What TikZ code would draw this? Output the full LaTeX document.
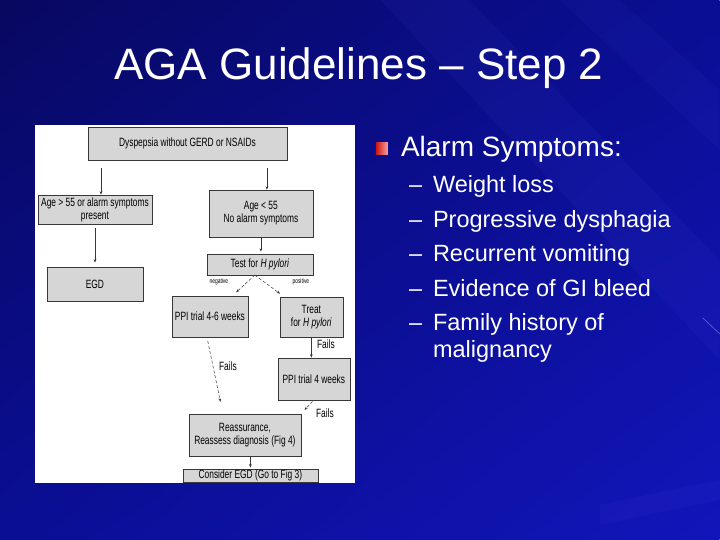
\documentclass[tikz,border=0pt]{standalone}
\usepackage{fontspec}
\setmainfont{Liberation Sans}
\newfontfamily\narrowfont[FakeStretch=0.7]{Liberation Sans}
\usetikzlibrary{arrows.meta, positioning, calc, shadings}
\definecolor{bgdark}{RGB}{8,8,96}
\definecolor{bgmid}{RGB}{10,14,148}
\definecolor{bglight}{RGB}{18,22,186}
\definecolor{boxgray}{RGB}{214,214,214}
\definecolor{boxline}{RGB}{55,55,55}
\definecolor{bulletred}{RGB}{200,20,20}
\definecolor{bulletpink}{RGB}{250,160,160}

\begin{document}
\begin{tikzpicture}[x=1pt, y=-1pt,
  flowbox/.style={rectangle, draw=boxline, fill=boxgray, inner sep=0pt, font=\narrowfont\fontsize{12}{13}\selectfont, align=center, text=black},
  flowlabel/.style={font=\narrowfont\fontsize{12}{13}\selectfont, text=black, inner sep=1pt},
  tinylabel/.style={font=\narrowfont\fontsize{7}{8}\selectfont, text=black, inner sep=0pt},
  arr/.style={-{Stealth[length=3.5pt, width=2.6pt]}, boxline, line width=0.5pt},
  darr/.style={arr, densely dashed},
  titletext/.style={font=\fontsize{44}{50}\selectfont, text=white, inner sep=0pt},
  headtext/.style={font=\fontsize{28}{32}\selectfont, text=white, inner sep=0pt, anchor=base west},
  itemtext/.style={font=\fontsize{23.5}{27}\selectfont, text=white, inner sep=0pt, anchor=base west},
]
  % Slide background
  \shade[upper left=bgdark, upper right=bgmid, lower left=bgmid, lower right=bglight] (0,0) rectangle (720,540);
  \fill[blue!60!white, opacity=0.06] (380,0) -- (470,0) -- (720,260) -- (720,360) -- cycle;
  \fill[blue!60!white, opacity=0.05] (560,0) -- (620,0) -- (720,90) -- (720,150) -- cycle;
  \fill[blue!60!white, opacity=0.06] (600,505) -- (720,480) -- (720,500) -- (600,525) -- cycle;
  \draw[white, opacity=0.35, line width=0.6pt] (703,318) -- (720,334);
  \useasboundingbox (0,0) rectangle (720,540);

  % Title
  \node[titletext] (title) at (359,68) {AGA Guidelines -- Step 2};

  % Flowchart panel
  \fill[white] (35,125) rectangle (355,483);

  \node[flowbox, minimum width=199pt, minimum height=33pt] (dys) at (187.5,143.5) {Dyspepsia without GERD or NSAIDs};
  \node[flowbox, minimum width=114pt, minimum height=29pt] (old) at (95,209.5) {Age \textgreater{} 55 or alarm symptoms\\present};
  \node[flowbox, minimum width=104pt, minimum height=47pt] (young) at (261,213.5) {Age \textless{} 55\\No alarm symptoms};
  \node[flowbox, minimum width=96pt, minimum height=34pt] (egd) at (95,284) {EGD};
  \node[flowbox, minimum width=106pt, minimum height=21pt] (hp) at (260,264.5) {Test for \textit{H pylori}};
  \node[flowbox, minimum width=76pt, minimum height=41pt] (ppi46) at (210,316.5) {PPI trial 4-6 weeks};
  \node[flowbox, minimum width=63pt, minimum height=40pt] (treat) at (311.5,317) {Treat\\for \textit{H pylori}};
  \node[flowbox, minimum width=72pt, minimum height=42pt] (ppi4) at (314,379) {PPI trial 4 weeks};
  \node[flowbox, minimum width=112pt, minimum height=42pt] (reas) at (245,435) {Reassurance,\\Reassess diagnosis (Fig 4)};
  \node[flowbox, minimum width=135pt, minimum height=13pt] (egd2) at (250.5,475.5) {Consider EGD (Go to Fig 3)};

  \draw[arr, shorten <=8pt] ([xshift=6pt]dys.south -| old.north) -- ([xshift=6pt]old.north);
  \draw[arr, shorten <=8pt] ([xshift=6pt]dys.south -| young.north) -- ([xshift=6pt]young.north);
  \draw[arr, shorten <=4pt, shorten >=4pt] (old.south) -- (egd.north);
  \draw[arr, shorten >=2pt] (young.south) -- (young.south |- hp.north);
  \draw[darr, shorten >=5pt] ([xshift=-5pt]hp.south) -- (ppi46);
  \draw[darr, shorten >=5pt] ([xshift=-5pt]hp.south) -- (treat);
  \node[tinylabel] (neg) at (219,282) {negative};
  \node[tinylabel] (pos) at (301,282) {positive};
  \draw[arr] (treat.south) -- (treat.south |- ppi4.north);
  \node[flowlabel, anchor=west] (f1) at (316,344) {Fails};
  \draw[darr, shorten <=4pt, shorten >=12pt] ([xshift=-3pt]ppi46.south) -- ([xshift=-22pt]reas.north);
  \node[flowlabel, anchor=west] (f2) at (218,366) {Fails};
  \draw[darr, shorten <=2pt, shorten >=5pt] (ppi4.south) -- (reas.north east);
  \node[flowlabel, anchor=west] (f3) at (315,413) {Fails};
  \draw[arr, shorten >=1pt] (reas.south -| egd2.north) -- (egd2.north);

  % Alarm symptoms list
  \shade[left color=bulletred, right color=bulletpink] (376,143) rectangle (388,155);
  \node[headtext] (alarm) at (401,157) {Alarm Symptoms:};
  \foreach \txt [count=\i] in {Weight loss, Progressive dysphagia, Recurrent vomiting, Evidence of GI bleed, Family history of} {
    \node[itemtext] (dash\i) at (409,158+34.6*\i) {--};
    \node[itemtext] (item\i) at (433,158+34.6*\i) {\txt};
  }
  \node[itemtext] (item6) at (433,358) {malignancy};
\end{tikzpicture}
\end{document}
